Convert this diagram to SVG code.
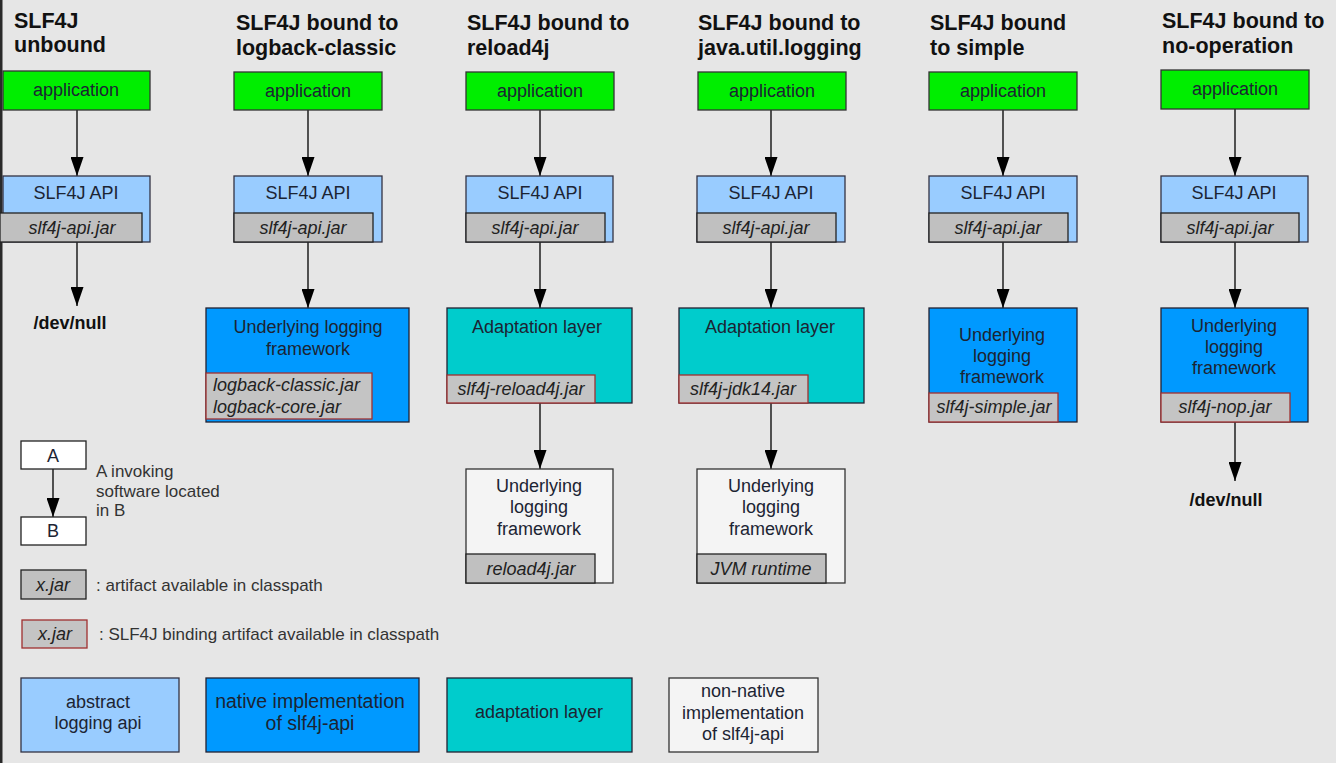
<svg xmlns="http://www.w3.org/2000/svg" width="1336" height="763" viewBox="0 0 1336 763">
<defs>
<marker id="ah" viewBox="0 0 19 13" refX="19" refY="6.5" markerWidth="19" markerHeight="13" markerUnits="userSpaceOnUse" orient="auto">
<path d="M0,0 L19,6.5 L0,13 z" fill="#000"/>
</marker>
<style>
text{font-family:"Liberation Sans",Arial,sans-serif;fill:#1c2433}
.title{font-size:21.5px;font-weight:bold;fill:#111}
.t{font-size:18px;text-anchor:middle}
.tl{font-size:18px;text-anchor:middle}
.tn{font-size:19.5px;text-anchor:middle}
.j{font-size:18px;font-style:italic;text-anchor:middle;fill:#222}
.jl{font-size:18px;font-style:italic;fill:#222}
.null{font-size:18px;font-weight:bold;fill:#111;text-anchor:middle}
.leg{font-size:17px;fill:#333}
.app{fill:#00ee00;stroke:#333;stroke-width:1.3}
.api{fill:#99ccff;stroke:#334;stroke-width:1.3}
.nat{fill:#0099ff;stroke:#223;stroke-width:1.3}
.ada{fill:#00cccc;stroke:#223;stroke-width:1.3}
.non{fill:#f4f4f4;stroke:#333;stroke-width:1.3}
.jar{fill:#c0c0c0;stroke:#222;stroke-width:1.3}
.bjar{fill:#c4c4c4;stroke:#a03030;stroke-width:1.3}
.wb{fill:#fff;stroke:#222;stroke-width:1.3}
.c{stroke:#000;stroke-width:1.3;fill:none;marker-end:url(#ah)}
</style>
</defs>
<rect width="1336" height="763" fill="#e6e6e6"/>
<rect x="0" y="0" width="2.5" height="763" fill="#2a2a2a"/>

<g id="titles">
<text class="title" x="14" y="28">SLF4J</text>
<text class="title" x="14" y="52">unbound</text>
<text class="title" x="236" y="30">SLF4J bound to</text>
<text class="title" x="236" y="55">logback-classic</text>
<text class="title" x="467" y="30">SLF4J bound to</text>
<text class="title" x="467" y="55">reload4j</text>
<text class="title" x="698" y="30">SLF4J bound to</text>
<text class="title" x="698" y="55">java.util.logging</text>
<text class="title" x="930" y="30">SLF4J bound</text>
<text class="title" x="930" y="55">to simple</text>
<text class="title" x="1162" y="28">SLF4J bound to</text>
<text class="title" x="1162" y="53">no-operation</text>
</g>

<g id="connectors">
<line class="c" x1="77" y1="110" x2="77" y2="176"/>
<line class="c" x1="77" y1="242" x2="77" y2="306"/>
<line class="c" x1="308" y1="110" x2="308" y2="176"/>
<line class="c" x1="308" y1="242" x2="308" y2="308"/>
<line class="c" x1="540" y1="110" x2="540" y2="176"/>
<line class="c" x1="540" y1="242" x2="540" y2="308"/>
<line class="c" x1="540" y1="403" x2="540" y2="469"/>
<line class="c" x1="771" y1="110" x2="771" y2="176"/>
<line class="c" x1="771" y1="242" x2="771" y2="308"/>
<line class="c" x1="771" y1="403" x2="771" y2="469"/>
<line class="c" x1="1003" y1="110" x2="1003" y2="176"/>
<line class="c" x1="1003" y1="242" x2="1003" y2="308"/>
<line class="c" x1="1235" y1="109" x2="1235" y2="176"/>
<line class="c" x1="1235" y1="242" x2="1235" y2="308"/>
<line class="c" x1="1235" y1="422" x2="1235" y2="481"/>
<line class="c" x1="53" y1="469" x2="53" y2="517"/>
</g>

<!-- column 1 -->
<g id="app1"><rect class="app" x="3" y="71" width="147" height="39"/><text class="t" x="76" y="96">application</text></g>
<g id="api1"><rect class="api" x="3" y="176" width="147" height="66"/><text class="t" x="76" y="199">SLF4J API</text>
<rect class="jar" x="0" y="213" width="142" height="29"/><text class="j" x="72" y="234">slf4j-api.jar</text></g>
<g id="null1"><text class="null" x="70" y="329">/dev/null</text></g>

<!-- column 2 -->
<g id="app2"><rect class="app" x="234" y="72" width="148" height="38"/><text class="t" x="308" y="97">application</text></g>
<g id="api2"><rect class="api" x="234" y="176" width="148" height="66"/><text class="t" x="308" y="199">SLF4J API</text>
<rect class="jar" x="234" y="213" width="139" height="29"/><text class="j" x="303" y="234">slf4j-api.jar</text></g>
<g id="fw2"><rect class="nat" x="206" y="308" width="203" height="114"/>
<text class="t" x="308" y="333">Underlying logging</text><text class="t" x="308" y="355">framework</text>
<rect class="bjar" x="206" y="373" width="166" height="46"/>
<text class="jl" x="213" y="391">logback-classic.jar</text><text class="jl" x="213" y="413">logback-core.jar</text></g>

<!-- column 3 -->
<g id="app3"><rect class="app" x="466" y="72" width="148" height="38"/><text class="t" x="540" y="97">application</text></g>
<g id="api3"><rect class="api" x="466" y="176" width="147" height="66"/><text class="t" x="540" y="199">SLF4J API</text>
<rect class="jar" x="466" y="213" width="139" height="29"/><text class="j" x="535" y="234">slf4j-api.jar</text></g>
<g id="ada3"><rect class="ada" x="447" y="308" width="185" height="95"/>
<text class="t" x="537" y="333">Adaptation layer</text>
<rect class="bjar" x="447" y="375" width="148" height="28"/><text class="j" x="521" y="395">slf4j-reload4j.jar</text></g>
<g id="fw3"><rect class="non" x="466" y="469" width="147" height="114"/>
<text class="t" x="539" y="492">Underlying</text><text class="t" x="539" y="513">logging</text><text class="t" x="539" y="535">framework</text>
<rect class="jar" x="466" y="554" width="129" height="29"/><text class="j" x="531" y="575">reload4j.jar</text></g>

<!-- column 4 -->
<g id="app4"><rect class="app" x="698" y="72" width="148" height="38"/><text class="t" x="772" y="97">application</text></g>
<g id="api4"><rect class="api" x="697" y="176" width="148" height="66"/><text class="t" x="771" y="199">SLF4J API</text>
<rect class="jar" x="697" y="213" width="139" height="29"/><text class="j" x="766" y="234">slf4j-api.jar</text></g>
<g id="ada4"><rect class="ada" x="679" y="308" width="185" height="95"/>
<text class="t" x="770" y="333">Adaptation layer</text>
<rect class="bjar" x="679" y="375" width="129" height="28"/><text class="j" x="743" y="395">slf4j-jdk14.jar</text></g>
<g id="fw4"><rect class="non" x="697" y="469" width="148" height="114"/>
<text class="t" x="771" y="492">Underlying</text><text class="t" x="771" y="513">logging</text><text class="t" x="771" y="535">framework</text>
<rect class="jar" x="697" y="554" width="129" height="29"/><text class="j" x="761" y="575">JVM runtime</text></g>

<!-- column 5 -->
<g id="app5"><rect class="app" x="929" y="72" width="148" height="38"/><text class="t" x="1003" y="97">application</text></g>
<g id="api5"><rect class="api" x="929" y="176" width="148" height="66"/><text class="t" x="1003" y="199">SLF4J API</text>
<rect class="jar" x="929" y="213" width="139" height="29"/><text class="j" x="998" y="234">slf4j-api.jar</text></g>
<g id="fw5"><rect class="nat" x="929" y="308" width="148" height="114"/>
<text class="t" x="1002" y="341">Underlying</text><text class="t" x="1002" y="362">logging</text><text class="t" x="1002" y="383">framework</text>
<rect class="bjar" x="929" y="393" width="129" height="29"/><text class="j" x="994" y="413">slf4j-simple.jar</text></g>

<!-- column 6 -->
<g id="app6"><rect class="app" x="1161" y="70" width="148" height="39"/><text class="t" x="1235" y="95">application</text></g>
<g id="api6"><rect class="api" x="1161" y="176" width="147" height="66"/><text class="t" x="1234" y="199">SLF4J API</text>
<rect class="jar" x="1161" y="213" width="138" height="29"/><text class="j" x="1230" y="234">slf4j-api.jar</text></g>
<g id="fw6"><rect class="nat" x="1161" y="308" width="147" height="114"/>
<text class="t" x="1234" y="332">Underlying</text><text class="t" x="1234" y="353">logging</text><text class="t" x="1234" y="374">framework</text>
<rect class="bjar" x="1161" y="393" width="129" height="29"/><text class="j" x="1225" y="413">slf4j-nop.jar</text></g>
<g id="null6"><text class="null" x="1226" y="506">/dev/null</text></g>

<!-- legend -->
<g id="legA"><rect class="wb" x="21" y="441" width="65" height="28"/><text class="t" x="53" y="462">A</text></g>
<g id="legB"><rect class="wb" x="21" y="517" width="65" height="28"/><text class="t" x="53" y="537">B</text></g>
<g id="legAB"><text class="leg" x="96" y="477">A invoking</text><text class="leg" x="96" y="497">software located</text><text class="leg" x="96" y="516">in B</text></g>
<g id="legJar"><rect class="jar" x="21" y="570" width="65" height="29"/><text class="j" x="53" y="591">x.jar</text>
<text class="leg" x="96" y="591">: artifact available in classpath</text></g>
<g id="legBJar"><rect class="bjar" x="22" y="620" width="65" height="28"/><text class="j" x="55" y="640">x.jar</text>
<text class="leg" x="99" y="640">: SLF4J binding artifact available in classpath</text></g>
<g id="legApi"><rect class="api" x="21" y="678" width="158" height="74"/><text class="tl" x="98" y="708">abstract</text><text class="tl" x="98" y="729">logging api</text></g>
<g id="legNat"><rect class="nat" x="206" y="678" width="213" height="74"/><text class="tn" x="310" y="708">native implementation</text><text class="tn" x="310" y="730">of slf4j-api</text></g>
<g id="legAda"><rect class="ada" x="447" y="678" width="185" height="74"/><text class="tl" x="539" y="718">adaptation layer</text></g>
<g id="legNon"><rect class="non" x="669" y="678" width="149" height="74"/><text class="t" x="743" y="697">non-native</text><text class="t" x="743" y="719">implementation</text><text class="t" x="743" y="740">of slf4j-api</text></g>
</svg>
